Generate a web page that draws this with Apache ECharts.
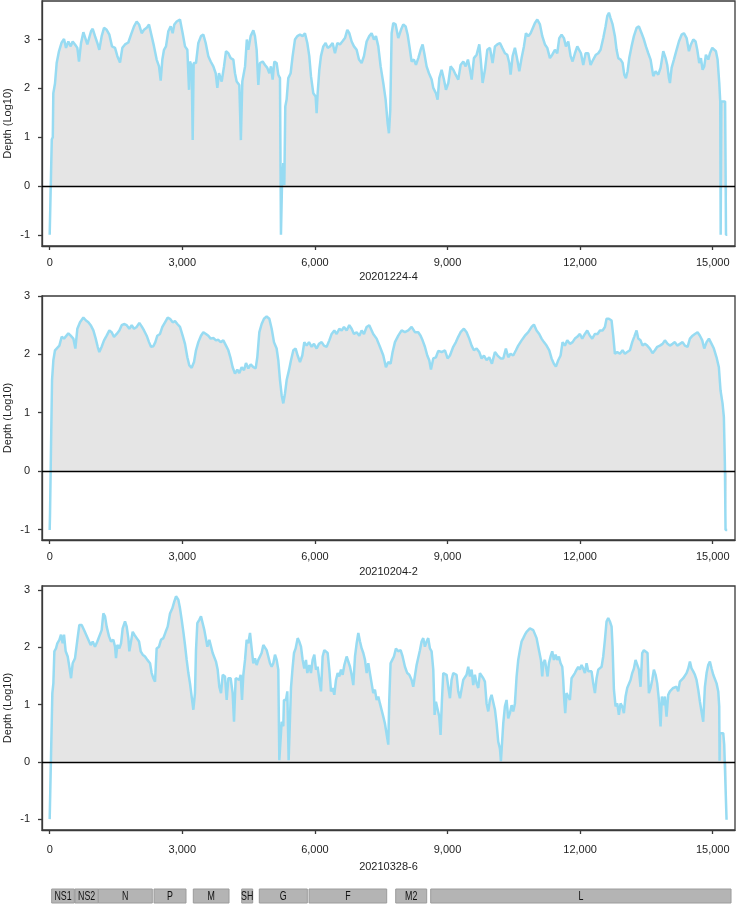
<!DOCTYPE html>
<html>
<head>
    <title>Depth</title>
    <meta charset="utf-8">
    <script type="text/javascript" src="https://cdn.jsdelivr.net/npm/echarts@6/dist/echarts.min.js"></script>
    <style>
        body { margin: 0; background: #fff; }
        #main { width: 738px; height: 905px; }
    </style>
</head>
<body>
    <div id="main"></div>
    <script>
        // sample names (x axis titles)
        const samples = ['20201224-4', '20210204-2', '20210328-6'];

        // 20201224-4
        const pos1 = [0,45,47,70,82,120,158,210,271,324,369,422,475,520,573,626,663,709,762,807,852,897,935,973,1025,1078,1123,1176,1229,1289,1350,1410,1478,1531,1591,1644,1704,1779,1840,1908,1968,2021,2081,2134,2194,2247,2307,2360,2420,2473,2511,2549,2586,2631,2684,2737,2782,2820,2873,2948,3008,3061,3114,3152,3174,3212,3235,3257,3310,3363,3423,3476,3529,3589,3642,3702,3755,3793,3830,3891,3944,3989,4042,4094,4155,4192,4230,4290,4325,4358,4396,4420,4460,4494,4546,4607,4644,4682,4720,4757,4818,4871,4923,4969,5006,5044,5082,5134,5172,5210,5225,5232,5255,5285,5308,5330,5360,5398,5451,5496,5549,5602,5662,5722,5775,5828,5873,5911,5964,6017,6039,6062,6100,6137,6190,6243,6288,6341,6401,6454,6507,6567,6620,6680,6733,6778,6831,6884,6944,6997,7057,7110,7170,7230,7283,7336,7381,7434,7487,7547,7600,7645,7675,7705,7736,7773,7826,7886,7947,7999,8052,8098,8150,8188,8241,8286,8339,8392,8437,8475,8527,8580,8641,8678,8738,8776,8814,8867,8919,8965,9018,9070,9131,9184,9244,9296,9357,9410,9462,9508,9546,9598,9659,9719,9749,9794,9847,9900,9960,10020,10073,10126,10186,10239,10299,10352,10397,10427,10473,10525,10578,10624,10676,10729,10774,10827,10880,10925,10978,11031,11091,11144,11204,11257,11317,11370,11430,11483,11528,11581,11634,11679,11732,11785,11830,11883,11936,11981,12019,12071,12124,12184,12237,12297,12358,12411,12463,12524,12576,12614,12652,12689,12735,12787,12825,12863,12916,12961,12999,13036,13074,13112,13164,13217,13278,13330,13391,13444,13489,13542,13594,13655,13707,13768,13820,13881,13934,13971,14009,14032,14070,14122,14182,14235,14296,14348,14409,14462,14507,14560,14612,14650,14695,14733,14771,14808,14846,14899,14937,14990,15027,15072,15110,15148,15170,15180,15195,15280,15290,15300,15330];
        const depth1 = [-1,-1,0.95,1.0,1.9,2.1,2.52,2.76,2.94,3.01,2.83,2.96,2.86,2.96,2.9,2.83,2.55,2.93,3.15,3.13,2.9,2.86,3.17,3.22,3.07,2.93,2.79,3.07,3.24,3.2,3.1,2.86,2.83,2.66,2.53,2.83,2.9,2.94,3.1,3.27,3.37,3.31,3.13,3.2,3.24,3.31,3.07,2.86,2.59,2.45,2.16,2.59,2.79,2.86,3.17,3.27,3.13,3.31,3.37,3.41,3.13,2.86,2.79,1.97,2.55,2.45,0.94,2.52,2.52,2.93,3.07,3.1,2.93,2.66,2.55,2.45,2.31,2.01,2.31,2.14,2.45,2.76,2.72,2.62,2.59,2.31,2.14,2.07,0.94,2.14,2.18,2.45,3.0,2.79,3.07,3.19,3.07,2.79,2.07,2.52,2.55,2.48,2.42,2.31,2.45,2.18,2.55,2.52,2.28,2.21,0,-1,0,0.47,0.02,1.63,1.77,2.21,2.31,2.66,3.0,3.07,3.1,3.07,3.13,2.93,2.66,2.25,1.9,1.83,1.49,1.9,2.38,2.66,2.86,2.93,2.83,2.86,2.93,2.72,2.93,2.9,2.96,3.03,3.2,3.13,2.96,2.86,2.79,2.59,2.52,2.66,2.96,3.07,3.13,3.0,3.07,2.86,2.45,2.11,1.77,1.29,1.08,1.56,3.13,3.34,3.31,3.03,3.2,3.31,3.27,3.1,2.79,2.55,2.59,2.48,2.62,2.79,2.9,2.72,2.45,2.31,2.18,2.01,1.9,1.77,2.21,2.38,2.18,1.97,2.11,2.45,2.38,2.28,2.18,2.48,2.55,2.45,2.59,2.38,2.18,2.62,2.69,2.9,2.62,2.11,2.38,2.79,2.83,2.52,2.86,2.9,2.93,2.83,2.72,2.69,2.52,2.28,2.66,2.83,2.59,2.35,2.62,2.86,3.13,3.07,3.13,3.17,3.34,3.41,3.31,3.07,2.9,2.83,2.62,2.69,2.79,2.72,3.03,3.1,3.03,2.86,2.96,2.66,2.55,2.72,2.86,2.9,2.72,2.48,2.72,2.72,2.48,2.59,2.69,2.72,2.79,3.03,3.27,3.48,3.55,3.44,3.31,3.07,2.79,2.62,2.59,2.52,2.28,2.21,2.35,2.62,2.86,3.07,3.24,3.27,3.13,3.0,2.86,2.72,2.59,2.25,2.35,2.28,2.42,2.76,2.62,2.48,2.21,2.11,2.42,2.59,2.79,2.96,3.1,3.13,3.03,2.76,2.9,3.0,2.96,2.79,2.52,2.62,2.38,2.45,2.69,2.59,2.72,2.83,2.79,2.76,2.59,2.11,1.73,-1,1.73,1.73,0.47,-1,-1];

        // 20210204-2
        const pos2 = [0,8,30,53,83,120,158,219,271,324,369,422,475,535,581,626,686,762,822,875,927,988,1041,1086,1123,1176,1229,1289,1350,1402,1455,1516,1576,1629,1681,1742,1802,1855,1908,1968,2028,2081,2134,2194,2247,2292,2345,2390,2435,2496,2549,2609,2669,2722,2782,2835,2888,2948,3008,3061,3114,3159,3212,3265,3310,3363,3423,3476,3536,3589,3642,3702,3762,3815,3868,3928,3989,4042,4094,4139,4192,4245,4290,4343,4396,4441,4494,4547,4607,4660,4697,4743,4795,4848,4908,4969,5022,5074,5134,5172,5210,5248,5285,5323,5361,5414,5459,5512,5564,5610,5662,5715,5760,5813,5866,5926,5979,6039,6092,6153,6205,6266,6326,6379,6439,6492,6552,6605,6658,6718,6778,6831,6884,6944,7005,7057,7110,7170,7230,7320,7396,7471,7547,7607,7660,7712,7758,7811,7886,7961,8037,8112,8188,8263,8338,8391,8436,8489,8542,8587,8625,8678,8738,8791,8866,8942,9002,9055,9130,9190,9243,9296,9371,9432,9492,9545,9597,9658,9718,9771,9824,9884,9944,10005,10073,10133,10201,10261,10321,10374,10427,10487,10548,10600,10676,10751,10827,10902,10955,11015,11075,11128,11181,11241,11302,11354,11407,11452,11505,11558,11603,11656,11709,11769,11829,11882,11935,11995,12048,12108,12161,12221,12274,12335,12395,12448,12508,12561,12598,12651,12712,12749,12787,12840,12900,12960,13013,13066,13126,13179,13224,13277,13315,13367,13413,13465,13518,13578,13639,13692,13745,13805,13865,13918,13978,14031,14091,14144,14197,14257,14318,14371,14431,14484,14544,14597,14657,14710,14763,14808,14861,14914,14974,15026,15086,15139,15177,15222,15252,15275,15290,15328];
        const depth2 = [-1.01,-0.72,0.42,1.56,1.9,2.07,2.1,2.15,2.3,2.27,2.24,2.36,2.32,2.27,2.1,2.44,2.55,2.63,2.58,2.55,2.5,2.41,2.27,2.13,2.04,2.13,2.24,2.32,2.41,2.38,2.3,2.35,2.41,2.5,2.52,2.5,2.44,2.5,2.44,2.47,2.54,2.48,2.41,2.32,2.21,2.13,2.14,2.21,2.32,2.35,2.47,2.55,2.63,2.61,2.55,2.57,2.52,2.47,2.32,2.18,1.95,1.81,1.77,1.87,2.07,2.21,2.32,2.38,2.35,2.32,2.27,2.28,2.24,2.25,2.21,2.24,2.15,2.07,1.93,1.78,1.67,1.74,1.68,1.78,1.73,1.85,1.76,1.83,1.78,1.76,1.95,2.38,2.52,2.61,2.65,2.61,2.44,2.21,2.1,1.9,1.56,1.3,1.16,1.33,1.56,1.73,1.9,2.07,2.1,1.98,1.87,1.98,2.21,2.15,2.21,2.13,2.18,2.1,2.18,2.21,2.15,2.13,2.24,2.35,2.41,2.35,2.44,2.41,2.47,2.41,2.5,2.44,2.35,2.38,2.32,2.41,2.35,2.47,2.5,2.35,2.27,2.13,1.98,1.78,1.87,1.84,2.04,2.21,2.32,2.41,2.38,2.41,2.47,2.38,2.38,2.32,2.24,2.13,1.98,1.9,1.74,1.93,1.95,2.06,2.04,2.07,1.93,1.98,2.13,2.21,2.3,2.38,2.44,2.38,2.27,2.15,2.07,2.1,2.04,1.93,1.98,1.9,1.95,1.84,2.04,1.98,1.93,1.93,2.1,1.95,2.01,1.98,2.07,2.15,2.24,2.32,2.38,2.47,2.51,2.41,2.35,2.27,2.21,2.15,2.07,1.93,1.84,1.79,1.9,1.98,2.21,2.15,2.24,2.18,2.21,2.27,2.3,2.35,2.27,2.35,2.41,2.32,2.27,2.35,2.35,2.41,2.41,2.47,2.61,2.61,2.58,2.32,2.01,2.04,2.01,2.07,2.01,2.04,2.07,2.21,2.3,2.41,2.27,2.24,2.15,2.18,2.15,2.1,2.02,2.07,2.13,2.15,2.18,2.24,2.18,2.15,2.18,2.21,2.15,2.18,2.21,2.15,2.13,2.27,2.32,2.35,2.38,2.32,2.24,2.1,2.21,2.27,2.18,2.1,1.95,1.78,1.38,1.16,0.93,0.13,-1.01,-1.01];

        // 20210328-6
        const pos3 = [0,45,60,83,106,143,173,219,256,294,324,362,407,445,483,520,573,626,671,724,777,822,875,927,973,1025,1078,1123,1176,1214,1252,1289,1342,1387,1440,1478,1500,1531,1576,1614,1651,1704,1742,1779,1802,1840,1878,1915,1968,2021,2059,2104,2156,2209,2270,2307,2345,2383,2420,2473,2518,2571,2624,2669,2722,2775,2820,2858,2910,2948,2986,3024,3061,3099,3137,3174,3212,3250,3287,3310,3340,3385,3423,3461,3499,3536,3567,3612,3649,3687,3725,3762,3800,3838,3876,3914,3966,4004,4042,4094,4139,4170,4207,4252,4290,4320,4351,4381,4419,4456,4494,4532,4569,4607,4645,4682,4720,4758,4795,4833,4871,4908,4946,4984,5022,5059,5097,5135,5172,5195,5225,5248,5285,5300,5346,5376,5406,5436,5459,5497,5527,5564,5610,5647,5685,5723,5760,5798,5828,5873,5911,5949,5987,6024,6062,6100,6138,6175,6213,6251,6289,6326,6364,6402,6439,6477,6515,6552,6590,6628,6666,6718,6756,6794,6831,6869,6907,6945,6982,7020,7058,7095,7133,7171,7208,7245,7283,7320,7358,7396,7434,7471,7509,7547,7584,7622,7660,7682,7712,7750,7788,7833,7886,7939,7984,8037,8089,8135,8188,8225,8263,8301,8338,8376,8414,8451,8489,8527,8564,8602,8640,8678,8708,8738,8776,8813,8843,8874,8904,8942,8979,9017,9055,9092,9130,9168,9205,9243,9281,9318,9356,9394,9431,9469,9507,9545,9582,9620,9658,9696,9733,9771,9809,9846,9884,9922,9959,9997,10035,10073,10110,10148,10186,10208,10238,10261,10299,10336,10374,10412,10450,10487,10525,10563,10600,10638,10676,10714,10751,10789,10827,10864,10902,10940,10977,11015,11053,11090,11113,11143,11166,11203,11241,11264,11294,11332,11369,11407,11445,11482,11520,11558,11596,11618,11641,11663,11694,11731,11769,11807,11844,11882,11920,11957,11995,12033,12071,12108,12146,12184,12221,12259,12297,12335,12372,12410,12448,12486,12523,12561,12598,12636,12674,12712,12734,12765,12802,12840,12877,12915,12953,12990,13028,13066,13103,13141,13179,13217,13254,13292,13330,13367,13405,13443,13488,13525,13556,13594,13631,13669,13707,13744,13782,13820,13850,13880,13918,13955,13993,14031,14069,14106,14144,14182,14219,14257,14295,14333,14370,14408,14446,14484,14521,14559,14597,14634,14672,14710,14747,14785,14823,14861,14898,14936,14974,15012,15049,15087,15125,15147,15155,15162,15200,15238,15260,15298,15313];
        const depth3 = [-1,-1,1.2,1.37,1.93,1.98,2.07,2.13,2.22,2.07,2.22,1.93,1.84,1.66,1.46,1.72,1.81,2.13,2.39,2.39,2.3,2.27,2.13,2.04,2.1,2.01,2.1,2.13,2.3,2.59,2.54,2.36,2.19,2.1,2.13,2.01,1.81,2.04,1.98,2.07,2.33,2.45,2.36,2.16,1.93,2.1,2.27,2.22,2.16,2.1,1.93,1.87,1.84,1.78,1.72,1.55,1.46,1.4,1.98,2.01,2.13,2.16,2.27,2.36,2.59,2.68,2.8,2.89,2.83,2.68,2.48,2.27,2.04,1.78,1.55,1.37,1.14,0.91,1.2,1.95,2.42,2.48,2.54,2.42,2.3,2.27,2.01,2.13,2.13,1.9,1.9,1.75,1.61,1.31,1.2,1.52,1.49,1.08,1.46,1.46,1.2,0.7,1.46,1.46,1.43,1.52,1.08,1.52,1.78,2.13,2.07,2.25,1.98,1.72,1.81,1.69,1.78,1.81,1.9,2.04,2.04,1.95,1.84,1.72,1.66,1.72,1.87,1.78,1.61,0.03,0.03,0.7,0.62,1.08,1.08,1.23,0.03,0.03,1.29,1.66,1.9,1.98,2.16,2.1,2.01,1.78,1.63,1.78,1.55,1.69,1.55,1.78,1.87,1.61,1.66,1.43,1.23,1.84,1.95,1.93,1.9,1.61,1.23,1.29,1.17,1.43,1.55,1.49,1.61,1.52,1.69,1.84,1.81,1.66,1.52,1.34,1.84,2.07,2.25,2.1,1.98,1.9,1.78,1.55,1.72,1.72,1.37,1.2,1.26,1.08,1.14,1.02,1.05,0.79,0.67,0.67,0.3,1.08,1.72,1.78,1.84,1.98,1.93,1.95,1.84,1.66,1.55,1.52,1.43,1.31,1.29,1.69,1.69,1.95,2.1,2.16,2.01,2.1,2.16,1.98,1.93,1.61,0.82,1.05,1.02,0.79,0.47,1.08,1.55,1.58,1.52,1.31,1.11,1.43,1.55,1.58,1.52,1.23,1.11,1.14,1.43,1.46,1.52,1.66,1.49,1.61,1.34,1.52,1.37,1.29,1.55,1.52,1.46,1.4,1.02,0.88,1.08,1.17,1.14,0.91,0.67,0.35,0.23,0.01,0.01,0.67,0.97,1.08,0.76,0.85,0.99,0.88,1.02,1.49,1.78,1.95,2.1,2.16,2.22,2.27,2.3,2.33,2.36,2.3,2.27,2.16,2.01,1.98,1.78,1.49,1.72,1.78,1.78,1.49,1.72,1.84,1.93,1.78,1.87,1.78,1.84,1.72,1.66,1.43,1.08,0.85,1.2,1.23,1.08,1.46,1.49,1.55,1.61,1.66,1.61,1.69,1.63,1.55,1.72,1.58,1.61,1.58,1.37,1.2,1.46,1.61,1.58,1.66,1.84,2.13,2.45,2.51,2.45,2.36,2.01,1.26,0.97,1.02,0.82,1.02,0.97,0.85,1.14,1.29,1.31,1.43,1.55,1.63,1.78,1.81,1.61,1.31,1.9,1.95,1.95,1.9,1.2,1.29,1.43,1.61,1.52,1.37,1.08,0.62,1.14,0.99,1.14,0.79,1.17,1.23,1.2,1.29,1.26,1.31,1.23,1.4,1.37,1.46,1.49,1.55,1.63,1.75,1.63,1.58,1.52,1.43,1.26,1.05,1.05,0.7,1.31,1.55,1.69,1.75,1.63,1.52,1.52,1.37,1.23,0.97,0.02,0.5,0.5,0.5,0.3,0.3,-1.01];

        // genome annotation
        const geneNames = ['NS1', 'NS2', 'N', 'P', 'M', 'SH', 'G', 'F', 'M2', 'L'];
        const geneStart = [45, 572, 1100, 2360, 3249, 4344, 4742, 5867, 7828, 8620];
        const geneEnd = [557, 1100, 2321, 3084, 4057, 4593, 5828, 7624, 8529, 15414];

        const xTicks = [0, 3000, 6000, 9000, 12000, 15000];
        const yTicks = [-1, 0, 1, 2, 3];

        const positions = [pos1, pos2, pos3];
        const depths = [depth1, depth2, depth3];
        const yRanges = [[-1.23, 3.79], [-1.18, 3.0], [-1.19, 3.07]];
        const panelTops = [1, 296, 586];
        const panelHeights = [245, 244, 244];
        const labelMargins = [11, 11, 14];
        const nameGaps = [25, 26, 31];

        const FONT = 'Liberation Sans';
        const TXT = '#1e1e1e';
        const FRAME = '#3a3a3a';

        const chart = echarts.init(document.getElementById('main'), null, { renderer: 'canvas' });

        const grid = [], xAxis = [], yAxis = [], series = [];
        for (let i = 0; i < 3; i++) {
            grid.push({
                left: 42, right: 3, top: panelTops[i], height: panelHeights[i],
                containLabel: false, outerBoundsMode: 'none',
                show: true, borderColor: FRAME, borderWidth: 1.3, backgroundColor: 'transparent'
            });
            xAxis.push({
                type: 'value', gridIndex: i, min: -174, max: 15504,
                name: samples[i], nameLocation: 'middle', nameGap: nameGaps[i],
                nameTextStyle: { fontFamily: FONT, fontSize: 11, color: TXT },
                axisLine: { show: true, onZero: false, lineStyle: { color: FRAME, width: 1.3 } },
                axisTick: { show: true, inside: false, length: 4, customValues: xTicks, lineStyle: { color: FRAME, width: 1.3 } },
                axisLabel: {
                    customValues: xTicks, margin: labelMargins[i],
                    fontFamily: FONT, fontSize: 11, color: TXT,
                    formatter: v => v.toLocaleString('en-US')
                },
                splitLine: { show: false }
            });
            yAxis.push({
                type: 'value', gridIndex: i, min: yRanges[i][0], max: yRanges[i][1],
                name: 'Depth (Log10)', nameLocation: 'middle', nameGap: 29, nameMoveOverlap: false,
                nameTextStyle: { fontFamily: FONT, fontSize: 11, color: TXT },
                axisLine: { show: true, onZero: false, lineStyle: { color: FRAME, width: 1.3 } },
                axisTick: { show: true, inside: false, length: 4, customValues: yTicks, lineStyle: { color: FRAME, width: 1.3 } },
                axisLabel: { customValues: yTicks, margin: 12, fontFamily: FONT, fontSize: 11, color: TXT },
                splitLine: { show: false }
            });
            series.push({
                type: 'line', xAxisIndex: i, yAxisIndex: i,
                data: positions[i].map((p, k) => [p, depths[i][k]]),
                showSymbol: false, symbol: 'none',
                lineStyle: { color: '#97DBF2', width: 2.5 },
                areaStyle: { color: '#E5E5E5', opacity: 1 },
                markLine: {
                    silent: true, symbol: 'none', label: { show: false },
                    lineStyle: { color: '#000', width: 1.4, type: 'solid' },
                    data: [{ yAxis: 0 }]
                }
            });
        }

        // gene bar
        grid.push({ left: 42, right: 3, top: 889, height: 14, containLabel: false, outerBoundsMode: 'none' });
        xAxis.push({ type: 'value', gridIndex: 3, min: -174, max: 15504, show: false });
        yAxis.push({ type: 'value', gridIndex: 3, min: 0, max: 1, show: false });
        series.push({
            type: 'custom', xAxisIndex: 3, yAxisIndex: 3, clip: false,
            data: geneNames.map((n, i) => [geneStart[i], geneEnd[i]]),
            encode: { x: [0, 1] },
            renderItem: (params, api) => {
                const a = api.coord([api.value(0), 1]);
                const b = api.coord([api.value(1), 0]);
                return {
                    type: 'group',
                    children: [
                        {
                            type: 'rect',
                            shape: { x: a[0], y: a[1], width: b[0] - a[0], height: b[1] - a[1] },
                            style: { fill: '#B4B4B4', stroke: '#9C9C9C', lineWidth: 1 }
                        },
                        {
                            type: 'text', x: (a[0] + b[0]) / 2, y: (a[1] + b[1]) / 2 + 0.5, scaleX: 0.68,
                            style: {
                                text: geneNames[params.dataIndex], fill: '#111',
                                font: '13px "Liberation Sans"', align: 'center', verticalAlign: 'middle'
                            }
                        }
                    ]
                };
            }
        });

        chart.setOption({ animation: false, grid, xAxis, yAxis, series });
    </script>
</body>
</html>
